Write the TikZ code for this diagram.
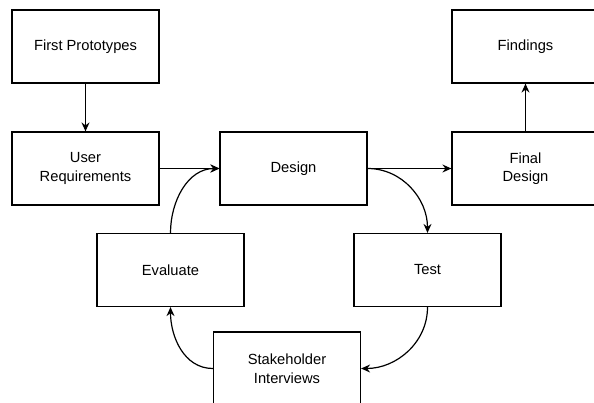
\documentclass[tikz,border=0pt]{standalone}
\usepackage{fontspec}
\setmainfont{Liberation Sans}
\usetikzlibrary{arrows.meta}

\begin{document}
\begin{tikzpicture}[x=1pt,y=1pt,>={Stealth[length=9pt,width=8pt,inset=3pt]}]
              \useasboundingbox (0,0) rectangle (594,-402);
              \clip (0,0) rectangle (594,-402);

              \begin{scope}[every node/.style={rectangle,draw,line width=1.2pt,minimum width=147pt,minimum height=73pt,inner sep=0pt,align=center,font=\fontsize{14.7}{18.5}\selectfont}]
                  \node (P) at (85.5,-46.5) {First Prototypes};
                  \node (U) at (85.5,-168.5) {User\\Requirements};
                  \node (D) at (293.5,-168.5) {Design};
                  \node (F) at (525.5,-168.5) {Final\\Design};
                  \node (R) at (525.5,-46.5) {Findings};
                  \node (E) at (170.5,-270) {Evaluate};
                  \node (T) at (427.5,-270) {Test};
                  \node (S) at (287,-368.5) {Stakeholder\\Interviews};
              \end{scope}

              \begin{scope}[line width=1.2pt]
                  \path [->] (P) edge (U);
                  \path [->] (U) edge (D);
                  \path [->] (D) edge (F);
                  \path [->] (F) edge (R);
                  \path [->] (D.east) edge[out=0,in=90] (T.north);
                  \path [->] (T.south) edge[out=-90,in=0] (S.east);
                  \path [->] (S.west) edge[out=180,in=-90] (E.south);
                  \path [->] (E.north) edge[out=90,in=180] (D.west);
              \end{scope}
              \end{tikzpicture}
\end{document}
